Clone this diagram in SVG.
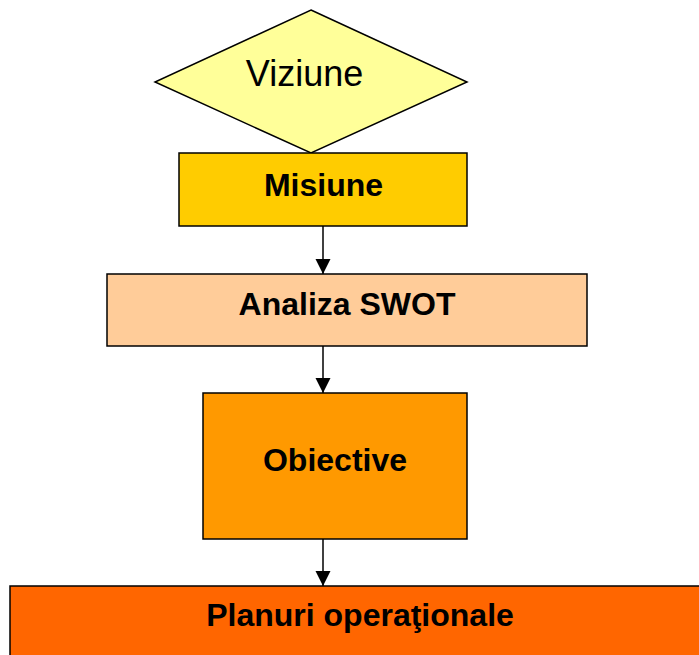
<svg xmlns="http://www.w3.org/2000/svg" width="699" height="655" viewBox="0 0 699 655">
<style>
.box{stroke:#000;stroke-width:1.5}
.lbl{font-family:"Liberation Sans",Arial,sans-serif;font-size:32px;font-weight:bold;fill:#000;text-anchor:middle}
.conn{stroke:#000;stroke-width:1.5;fill:none}
</style>
<defs>
<marker id="arr" markerUnits="userSpaceOnUse" markerWidth="15" markerHeight="17" refX="15" refY="7.5" orient="auto">
<path d="M0,0 L15,7.5 L0,15 Z" fill="#000"/>
</marker>
</defs>
<rect width="699" height="655" fill="#fff"/>
<g id="viziune">
<polygon class="box" points="311,10 467,82 311,153 155,82" fill="#FFFF99"/>
<text x="304.5" y="86" font-family="'Liberation Sans',Arial,sans-serif" font-size="36" text-anchor="middle" fill="#000">Viziune</text>
</g>
<g id="misiune">
<rect class="box" x="179" y="153" width="288" height="73" fill="#FFCC00"/>
<text class="lbl" x="323.5" y="196">Misiune</text>
</g>
<g id="swot">
<rect class="box" x="107" y="274" width="480" height="72" fill="#FFCC99"/>
<text class="lbl" x="347" y="315">Analiza SWOT</text>
</g>
<g id="obiective">
<rect class="box" x="203" y="393" width="264" height="146" fill="#FF9900"/>
<text class="lbl" x="335" y="471">Obiective</text>
</g>
<g id="planuri">
<rect class="box" x="10" y="586" width="700" height="80" fill="#FF6600"/>
<text class="lbl" x="360" y="626">Planuri operaţionale</text>
</g>
<g id="connectors">
<line class="conn" x1="323" y1="226" x2="323" y2="274" marker-end="url(#arr)"/>
<line class="conn" x1="323" y1="346" x2="323" y2="393" marker-end="url(#arr)"/>
<line class="conn" x1="323" y1="539" x2="323" y2="586" marker-end="url(#arr)"/>
</g>
</svg>
